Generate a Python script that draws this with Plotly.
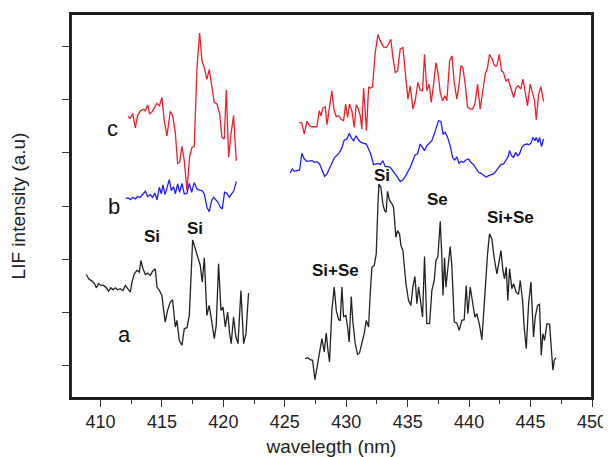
import plotly.graph_objects as go

# ---- data (wavelength nm, LIF intensity a.u. offset) ----
c_left_x = [412.24,412.43,412.62,412.83,413.02,413.24,413.51,413.65,413.84,414.0,414.19,414.38,414.6,414.79,415.0,415.19,415.41,415.68,415.87,416.09,416.28,416.44,416.63,416.82,417.04,417.25,417.44,417.63,417.85,418.07,418.26,418.45,418.66,418.85,419.07,419.26,419.48,419.7,419.88,420.07,420.24,420.43,420.62,420.83,421.05]
c_left_y = [4.68,4.65,4.74,4.47,4.70,4.79,4.82,4.79,4.90,4.73,4.77,4.84,4.93,4.88,5.04,4.60,4.32,4.78,4.70,4.38,3.80,3.82,4.12,3.85,3.29,3.92,4.10,4.12,5.60,6.25,5.73,5.60,5.38,5.57,5.26,4.95,4.92,4.73,4.29,4.26,5.18,3.92,4.35,4.70,3.85]

b_left_x = [412.05,412.24,412.43,412.62,412.83,413.02,413.24,413.43,413.65,413.84,414.05,414.24,414.43,414.6,414.79,414.95,415.08,415.25,415.41,415.6,415.76,415.95,416.09,416.28,416.44,416.63,416.82,417.04,417.23,417.42,417.63,417.85,418.07,418.26,418.45,418.66,418.85,419.04,419.21,419.4,419.56,419.75,419.91,420.1,420.29,420.48,420.67,420.86,421.05]
b_left_y = [3.145,3.152,3.12,3.164,3.133,3.177,3.164,3.214,3.277,3.177,3.214,3.164,3.245,3.114,3.352,3.227,3.396,3.214,3.352,3.496,3.29,3.364,3.227,3.414,3.258,3.427,3.227,3.24,3.427,3.258,3.44,3.32,3.30,3.29,3.227,2.977,2.895,3.10,3.164,3.114,3.07,2.977,2.945,3.258,3.24,3.164,3.227,3.29,3.464]

a_left_x = [408.85,409.04,409.31,409.52,409.66,409.85,410.07,410.26,410.47,410.66,410.85,411.02,411.21,411.4,411.61,411.83,412.02,412.21,412.43,412.56,412.75,412.97,413.16,413.29,413.46,413.65,413.84,414.05,414.24,414.46,414.6,414.79,415.0,415.14,415.27,415.46,415.68,415.87,416.09,416.22,416.41,416.63,416.82,417.04,417.23,417.5,417.71,417.9,418.12,418.28,418.45,418.66,418.85,419.04,419.26,419.42,419.61,419.8,419.97,420.16,420.35,420.51,420.64,420.83,421.02,421.19,421.43,421.65,421.84,422.05]
a_left_y = [1.713,1.631,1.588,1.538,1.462,1.538,1.506,1.506,1.462,1.40,1.462,1.425,1.462,1.425,1.444,1.412,1.506,1.444,1.381,1.569,1.725,1.788,1.757,1.975,1.82,1.713,1.738,1.694,1.775,1.82,1.475,1.412,1.319,1.037,0.818,1.037,1.194,1.237,0.725,0.85,0.474,0.381,0.693,0.712,0.943,2.363,2.194,2.038,1.882,1.569,2.025,0.943,1.131,0.85,0.506,0.756,1.913,1.037,1.10,0.725,1.006,0.60,0.412,0.912,0.537,0.412,1.412,0.412,0.60,1.363]

c_right_x = [426.20,426.39,426.58,426.80,427.02,427.21,427.40,427.61,427.80,427.94,428.10,428.29,428.43,428.64,428.83,429.02,429.19,429.38,429.57,429.78,429.95,430.11,430.27,430.46,430.65,430.81,430.98,431.14,431.27,431.41,431.55,431.65,431.82,431.95,432.14,432.36,432.58,432.77,433.04,433.25,433.44,433.63,433.80,433.99,434.18,434.39,434.61,434.80,435.02,435.21,435.42,435.61,435.83,436.02,436.21,436.37,436.56,436.75,436.92,437.11,437.30,437.46,437.65,437.84,438.03,438.19,438.41,438.60,438.79,439.00,439.19,439.33,439.49,439.68,439.87,440.09,440.28,440.47,440.69,440.90,441.12,441.31,441.50,441.66,441.88,442.07,442.26,442.45,442.64,442.80,442.99,443.18,443.40,443.62,443.83,444.02,444.21,444.38,444.57,444.75,444.97,445.16,445.33,445.46,445.65,445.84,446.06]
c_right_y = [4.571,4.559,4.352,4.59,4.509,4.49,4.49,4.49,4.79,4.696,4.84,4.865,4.528,4.915,5.166,4.79,4.678,4.696,4.634,4.603,4.915,4.665,4.915,4.79,4.478,4.903,4.822,4.696,4.446,5.215,4.728,4.415,5.24,5.215,5.24,5.885,6.229,6.104,5.991,5.978,6.041,6.135,5.791,5.509,5.541,5.947,5.978,5.541,5.009,5.26,4.822,4.978,5.322,5.178,5.166,5.853,5.166,5.29,4.947,5.29,5.697,5.509,5.134,4.978,5.072,4.978,5.728,5.822,5.322,5.009,5.29,5.635,5.603,5.29,4.865,4.822,4.822,4.915,5.29,4.822,5.228,5.478,5.603,5.853,5.76,5.635,5.635,5.853,5.541,5.509,5.353,5.384,5.215,5.04,5.228,5.26,5.197,5.384,5.134,4.884,5.29,5.103,4.978,4.621,5.09,5.24,4.965]

b_right_x = [425.44,425.61,425.77,425.99,426.20,426.39,426.58,426.80,427.02,427.21,427.40,427.61,427.83,428.02,428.24,428.43,428.64,428.83,429.02,429.24,429.46,429.65,429.84,430.05,430.24,430.43,430.60,430.81,431.00,431.19,431.41,431.63,431.82,432.01,432.22,432.41,432.60,432.77,432.98,433.17,433.36,433.58,433.80,433.99,434.18,434.39,434.61,434.80,434.99,435.21,435.40,435.61,435.80,436.02,436.21,436.37,436.56,436.75,436.97,437.16,437.32,437.51,437.70,437.89,438.06,438.25,438.46,438.65,438.81,439.00,439.19,439.36,439.55,439.74,439.95,440.14,440.36,440.58,440.77,440.96,441.17,441.39,441.58,441.77,441.99,442.21,442.39,442.58,442.80,442.99,443.18,443.29,443.45,443.62,443.78,443.94,444.10,444.29,444.48,444.70,444.86,445.03,445.19,445.35,445.46,445.62,445.73,445.89,446.06]
b_right_y = [3.621,3.696,3.652,3.665,3.677,3.99,3.883,3.84,3.852,3.852,3.821,3.833,3.79,3.696,3.558,3.602,3.696,3.802,3.902,3.965,4.008,4.102,4.24,4.259,4.365,4.277,4.227,4.321,4.24,4.196,4.177,4.165,4.071,3.965,3.777,3.79,3.802,3.777,3.852,3.74,3.746,3.727,3.665,3.602,3.54,3.464,3.489,3.552,3.633,3.727,3.84,3.965,3.977,4.165,4.102,4.04,4.134,4.177,4.227,4.352,4.478,4.603,4.59,4.352,4.384,4.29,4.134,3.915,3.865,3.915,3.802,3.84,3.821,3.865,3.883,3.821,3.777,3.696,3.633,3.615,3.571,3.54,3.571,3.59,3.602,3.665,3.727,3.777,3.79,3.865,3.927,4.04,3.946,3.915,4.008,3.946,3.977,4.102,4.152,4.165,4.152,4.177,4.29,4.227,4.29,4.196,4.29,4.115,4.259]

a_right_x = [426.66,426.85,427.07,427.26,427.45,427.61,427.83,428.02,428.21,428.37,428.51,428.64,428.83,429.02,429.19,429.38,429.51,429.65,429.78,429.97,430.11,430.24,430.41,430.54,430.73,430.92,431.08,431.27,431.46,431.63,431.82,431.95,432.09,432.28,432.44,432.58,432.66,432.82,432.98,433.12,433.25,433.36,433.53,433.72,433.85,434.04,434.18,434.34,434.45,434.61,434.72,434.86,435.07,435.26,435.42,435.59,435.75,435.89,436.02,436.21,436.37,436.56,436.78,436.97,437.16,437.30,437.46,437.65,437.78,437.87,438.00,438.11,438.25,438.46,438.60,438.79,439.00,439.19,439.41,439.60,439.76,439.90,440.09,440.28,440.47,440.63,440.85,441.04,441.17,441.36,441.50,441.66,441.85,442.04,442.26,442.45,442.59,442.75,442.88,443.02,443.15,443.29,443.48,443.62,443.83,444.02,444.16,444.35,444.48,444.65,444.84,445.03,445.24,445.38,445.57,445.73,445.87,446.00,446.14,446.33,446.55,446.68,446.82,446.93,447.06]
a_right_y = [0.131,0.149,0.112,0.099,-0.264,-0.026,0.224,0.506,0.256,0.612,0.287,0.068,1.037,1.475,1.037,0.862,0.85,1.475,0.912,0.944,0.725,0.443,1.30,0.818,0.412,0.212,0.237,0.412,0.60,0.85,0.725,1.35,1.85,1.882,2.10,3.039,3.414,3.351,3.039,2.914,2.882,3.276,3.101,3.039,2.976,2.413,2.538,2.476,2.257,2.163,1.913,1.538,1.225,1.131,1.475,1.675,1.162,1.475,1.256,0.912,2.05,0.787,0.787,1.413,1.60,1.975,2.05,2.713,2.038,1.319,2.025,1.475,1.788,2.238,1.85,0.818,0.80,0.662,0.85,0.862,1.506,0.975,1.475,1.225,0.912,0.975,0.756,0.487,0.975,1.788,2.10,2.476,2.382,2.025,1.725,1.975,2.163,1.788,1.632,1.85,1.225,1.819,1.444,1.538,1.381,1.338,1.60,1.225,0.725,0.318,1.162,1.569,0.537,0.912,1.131,1.15,0.193,0.60,0.475,0.787,0.775,0.35,-0.088,0.099,0.149]

# curve labels and peak labels
curve_labels = ["c", "b", "a"]
curve_label_x = [411.0, 411.13, 411.94]
curve_label_y = [4.45, 2.99, 0.59]
peak_labels = ["Si", "Si", "Si+Se", "Si", "Se", "Si+Se"]
peak_label_x = [414.16, 417.69, 429.1, 432.93, 437.45, 443.36]
peak_label_y = [2.43, 2.58, 1.78, 3.57, 3.12, 2.78]

x_ticks = [410, 415, 420, 425, 430, 435, 440, 445, 450]
y_ticks = [0, 1, 2, 3, 4, 5, 6]

RED = "#e8222a"
BLUE = "#1f1ff5"
BLACK = "#222222"
FONT = "Liberation Sans, Arial, sans-serif"

fig = go.Figure()
for xs, ys, col in [
    (c_left_x, c_left_y, RED), (c_right_x, c_right_y, RED),
    (b_left_x, b_left_y, BLUE), (b_right_x, b_right_y, BLUE),
    (a_left_x, a_left_y, BLACK), (a_right_x, a_right_y, BLACK),
]:
    fig.add_trace(go.Scatter(x=xs, y=ys, mode="lines",
                             line=dict(color=col, width=1.3),
                             showlegend=False, hoverinfo="skip"))

for t, x, y in zip(curve_labels, curve_label_x, curve_label_y):
    fig.add_annotation(x=x, y=y, text=t, showarrow=False,
                       font=dict(family=FONT, size=22, color="#111"))
for t, x, y in zip(peak_labels, peak_label_x, peak_label_y):
    fig.add_annotation(x=x, y=y, text="<b>" + t + "</b>", showarrow=False,
                       font=dict(family=FONT, size=17, color="#111"))

# frame around the plot area
fig.add_shape(type="rect", xref="paper", yref="paper", x0=0, y0=0, x1=1, y1=1,
              line=dict(color="#1a1a1a", width=1.8), layer="above")

# page body has an 8px default margin, so the figure is sized to fit the window
fig.update_layout(
    width=603, height=449,
    margin=dict(l=62.7, r=19.3, t=5.5, b=59),
    paper_bgcolor="white", plot_bgcolor="white",
    font=dict(family=FONT, color="#222"),
)
fig.update_xaxes(
    automargin=False,
    range=[407.6, 450], tickvals=x_ticks, ticks="outside", ticklen=7,
    tickwidth=1.3, tickcolor="#333",
    minor=dict(dtick=2.5, tick0=407.5, ticks="outside", ticklen=4, tickwidth=1.2, tickcolor="#333", showgrid=False),
    showline=True, linecolor="#222", linewidth=1.6, mirror=True,
    showgrid=False, zeroline=False,
    tickfont=dict(family=FONT, size=18, color="#222"),
    title=dict(text="wavelegth (nm)", font=dict(family=FONT, size=19, color="#222"), standoff=15),
)
fig.update_yaxes(
    automargin=False,
    range=[-0.61, 6.61], tickvals=y_ticks, showticklabels=False,
    ticks="outside", ticklen=7, tickwidth=1.3, tickcolor="#333",
    showline=True, linecolor="#222", linewidth=1.6, mirror=True,
    showgrid=False, zeroline=False,
    title=dict(text="LIF intensity (a.u)", font=dict(family=FONT, size=19, color="#222"), standoff=32),
)

fig.write_html("out.html")
